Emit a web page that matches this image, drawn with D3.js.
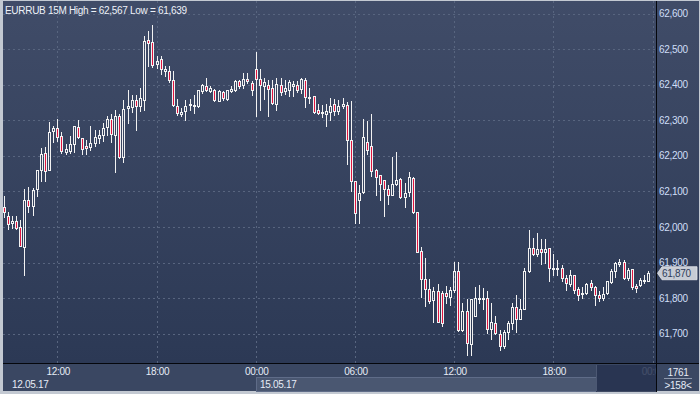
<!DOCTYPE html>
<html><head><meta charset="utf-8">
<script src="https://cdn.jsdelivr.net/npm/d3@7"></script>
<style>body{margin:0;background:#c3c9d2;}svg{display:block;font-family:"Liberation Sans",Arial,sans-serif;}</style>
</head><body>
<svg id="c" width="700" height="394"></svg>
<script>
const opens=[62055,62030,62012,62018,61999,61944,62077,62058,62107,62159,62208,62160,62269,62279,62256,62212,62213,62232,62282,62251,62227,62225,62237,62251,62260,62280,62304,62260,62311,62196,62335,62338,62358,62339,62358,62525,62520,62459,62471,62438,62438,62413,62341,62318,62325,62344,62344,62339,62382,62396,62382,62386,62355,62379,62360,62382,62386,62410,62398,62417,62405,62445,62416,62396,62400,62391,62347,62400,62382,62386,62396,62400,62388,62413,62366,62368,62330,62322,62319,62323,62347,62325,62339,62344,62244,62129,62077,62098,62239,62227,62159,62145,62131,62107,62091,62122,62136,62085,62098,62138,62043,61932,61854,61826,61794,61821,61815,61815,61804,61822,61877,61710,61765,61671,61749,61801,61801,61801,61712,61731,61700,61665,61705,61729,61775,61742,61770,61877,61941,61923,61937,61929,61941,61885,61885,61885,61857,61840,61866,61826,61815,61815,61843,61832,61808,61799,61815,61845,61876,61896,61901,61857,61882,61835,61838,61852,61847];
const highs=[62086,62041,62032,62032,62019,62107,62113,62109,62159,62222,62225,62296,62285,62304,62268,62232,62255,62285,62302,62251,62246,62285,62272,62272,62293,62311,62319,62328,62319,62358,62384,62370,62370,62392,62536,62550,62567,62480,62480,62452,62452,62438,62360,62335,62356,62360,62372,62386,62402,62419,62396,62388,62384,62382,62384,62396,62414,62414,62433,62433,62410,62491,62443,62419,62414,62414,62419,62419,62412,62414,62410,62410,62419,62419,62391,62368,62347,62344,62347,62363,62360,62357,62363,62351,62353,62129,62117,62304,62297,62319,62164,62147,62131,62117,62197,62211,62138,62124,62155,62141,62043,61944,61913,61854,61832,61841,61819,61835,61832,61901,61901,61785,61798,61798,61832,61838,61829,61819,61785,61751,61710,61709,61735,61785,61810,61798,61885,61991,61969,61982,61967,61967,61941,61923,61906,61894,61866,61880,61866,61832,61832,61843,61850,61835,61819,61832,61847,61882,61901,61910,61908,61885,61882,61841,61857,61866,61877];
const lows=[62029,61995,61998,61995,61946,61864,62041,62035,62088,62129,62129,62160,62238,62241,62209,62206,62208,62210,62251,62204,62204,62216,62227,62237,62243,62260,62240,62154,62194,62182,62293,62323,62274,62325,62328,62452,62450,62447,62429,62424,62407,62341,62316,62313,62302,62328,62321,62338,62377,62382,62379,62353,62353,62358,62358,62379,62382,62391,62391,62405,62372,62311,62328,62360,62313,62347,62328,62372,62375,62368,62368,62379,62377,62338,62349,62321,62318,62310,62283,62302,62316,62319,62335,62178,62100,62012,62012,62096,62206,62143,62091,62075,62032,62066,62091,62119,62082,62055,62086,62040,61930,61804,61779,61785,61732,61732,61723,61785,61782,61816,61707,61707,61639,61641,61749,61787,61770,61702,61686,61698,61655,61660,61686,61712,61704,61742,61770,61874,61920,61918,61897,61899,61847,61866,61866,61847,61822,61835,61815,61794,61799,61813,61824,61782,61791,61796,61813,61843,61860,61890,61854,61850,61826,61816,61833,61843,61847];
const closes=[62041,62009,62018,61998,61946,62077,62058,62105,62159,62205,62157,62268,62279,62253,62213,62218,62232,62285,62253,62220,62222,62237,62253,62260,62279,62304,62262,62311,62196,62333,62339,62358,62341,62363,62522,62518,62455,62468,62443,62443,62412,62344,62321,62324,62339,62345,62344,62386,62398,62386,62391,62356,62382,62363,62384,62389,62410,62396,62417,62410,62386,62416,62398,62407,62388,62349,62402,62379,62391,62407,62402,62386,62416,62366,62365,62323,62321,62323,62325,62339,62325,62341,62346,62244,62129,62040,62096,62253,62216,62157,62141,62122,62107,62089,62122,62133,62085,62096,62141,62042,61930,61854,61826,61791,61821,61732,61729,61805,61824,61877,61710,61765,61674,61798,61801,61801,61801,61714,61733,61702,61665,61705,61729,61775,61742,61770,61877,61941,61924,61939,61929,61939,61885,61885,61885,61857,61843,61864,61824,61810,61815,61841,61832,61808,61799,61812,61847,61877,61899,61901,61857,61880,61832,61829,61850,61852,61870];
const priceTicks=[61700,61800,61900,62000,62100,62200,62300,62400,62500,62600];
const timeTickIndex=[13,37,61,85,109,133,157];
const timeTickLabels=["12:00","18:00","00:00","06:00","12:00","18:00","00:00"];
const dateLabels=["12.05.17","15.05.17"];
const dateStartIndex=[0,61];
const title="EURRUB 15M High = 62,567 Low = 61,639";
const lastPrice=61870, barsTotal="1761", barsVisible=">158<";

const svg=d3.select("#c");
const W=700,H=394;
const plotL=3,plotR=656,plotT=1,plotB=363;
const x=d3.scaleLinear().domain([0,157]).range([3.6,652.5]);
const y=d3.scaleLinear().domain([61700,62600]).range([333.7,13.6]);

const defs=svg.append("defs");
const g1=defs.append("linearGradient").attr("id","bg").attr("x1",0).attr("y1",0).attr("x2",0).attr("y2",1);
g1.append("stop").attr("offset",0).attr("stop-color","#404c68");
g1.append("stop").attr("offset",1).attr("stop-color","#2c3955");
defs.append("clipPath").attr("id","plotclip").append("rect").attr("x",plotL).attr("y",plotT).attr("width",plotR-plotL).attr("height",plotB-plotT);
defs.append("clipPath").attr("id","axclip").append("rect").attr("x",plotL).attr("y",363).attr("width",plotR-plotL).attr("height",29);

// frame background
svg.append("rect").attr("width",W).attr("height",H).attr("fill","#c3c9d2");
svg.append("rect").attr("x",plotL).attr("y",plotT).attr("width",699-plotL).attr("height",plotB-plotT).attr("fill","url(#bg)");
// bottom band
svg.append("rect").attr("x",plotL).attr("y",364).attr("width",699-plotL).attr("height",27).attr("fill","#3a4762");

// gridlines
const grid=svg.append("g").attr("clip-path","url(#plotclip)").attr("shape-rendering","crispEdges");
grid.selectAll("line.h").data(priceTicks).join("line").attr("class","h")
  .attr("x1",plotL).attr("x2",plotR).attr("y1",d=>Math.round(y(d))+0.5).attr("y2",d=>Math.round(y(d))+0.5)
  .attr("stroke","#58657f").attr("stroke-dasharray","2,3");
grid.selectAll("line.v").data(timeTickIndex).join("line").attr("class","v")
  .attr("y1",plotT).attr("y2",plotB).attr("x1",d=>Math.round(x(d))+0.5).attr("x2",d=>Math.round(x(d))+0.5)
  .attr("stroke","#58657f").attr("stroke-dasharray","2,3");

// candles
const data=opens.map((o,i)=>({i,o,h:highs[i],l:lows[i],c:closes[i]}));
const cg=svg.append("g").attr("clip-path","url(#plotclip)").attr("shape-rendering","crispEdges");
const wickCol="#f2f2f2", red="#e0143f";
data.forEach(d=>{
  const cx=Math.round(x(d.i));
  let top=Math.round(y(Math.max(d.o,d.c))), bot=Math.round(y(Math.min(d.o,d.c)));
  if(bot-top<1) bot=top+1;
  const yh=Math.round(y(d.h)), yl=Math.round(y(d.l));
  if(yh<top) cg.append("line").attr("x1",cx+0.5).attr("x2",cx+0.5).attr("y1",yh).attr("y2",top).attr("stroke",wickCol);
  if(yl>bot) cg.append("line").attr("x1",cx+0.5).attr("x2",cx+0.5).attr("y1",bot+1).attr("y2",yl+1).attr("stroke",wickCol);
  cg.append("rect").attr("x",cx-0.5).attr("y",top+0.5).attr("width",2).attr("height",bot-top)
    .attr("fill",d.c<d.o?red:"none").attr("stroke",wickCol).attr("stroke-width",1);
});

// title
svg.append("text").attr("x",5).attr("y",14).attr("fill","#eef2f8").attr("font-size",10).attr("letter-spacing",-0.3).text(title);

// axis lines
svg.append("line").attr("x1",656.5).attr("x2",656.5).attr("y1",plotT).attr("y2",392).attr("stroke","#05070c").attr("shape-rendering","crispEdges");
svg.append("line").attr("x1",plotL).attr("x2",699).attr("y1",363.5).attr("y2",363.5).attr("stroke","#05070c").attr("shape-rendering","crispEdges");

// price labels
svg.append("g").selectAll("text").data(priceTicks).join("text")
  .attr("x",659).attr("y",d=>y(d)).attr("dy","0.35em").attr("fill","#cfdff7").attr("font-size",10).attr("letter-spacing",-0.3)
  .text(d=>d3.format(",")(d));

// last price tag
const ly=y(lastPrice);
svg.append("path").attr("d",`M657.5,${ly} L662,${ly-6.5} L697,${ly-6.5} L697,${ly+6.5} L662,${ly+6.5} Z`)
  .attr("fill","#c7ccd5").attr("stroke","#e4e7ec").attr("stroke-width",0.8);
svg.append("text").attr("x",662).attr("y",ly).attr("dy","0.35em").attr("fill","#2f3d5a").attr("font-size",10).attr("letter-spacing",-0.3).text(d3.format(",")(lastPrice));

// date band boxes
const axg=svg.append("g").attr("clip-path","url(#axclip)");
axg.append("rect").attr("x",Math.round(x(dateStartIndex[1]))+0.5).attr("y",377.5).attr("width",596-Math.round(x(dateStartIndex[1]))).attr("height",14)
  .attr("fill","#4a5771").attr("stroke","#5f6c88").attr("shape-rendering","crispEdges");
axg.selectAll("text.t").data(timeTickIndex).join("text").attr("class","t")
  .attr("x",d=>x(d)+1).attr("y",371).attr("dy","0.35em").attr("text-anchor","middle").attr("fill","#e6ecf6").attr("font-size",10).attr("letter-spacing",-0.3)
  .text((d,i)=>timeTickLabels[i]);
axg.selectAll("text.d").data(dateLabels).join("text").attr("class","d")
  .attr("x",(d,i)=>i===0?12:Math.round(x(dateStartIndex[i]))+4).attr("y",384).attr("dy","0.35em").attr("fill","#e6ecf6").attr("font-size",10).attr("letter-spacing",-0.3)
  .text(d=>d);
// dark overlay (current window)
axg.append("rect").attr("x",596).attr("y",365).attr("width",60).attr("height",27).attr("fill","#273350").attr("opacity",0.85);
axg.append("line").attr("x1",596.5).attr("x2",596.5).attr("y1",365).attr("y2",391).attr("stroke","#4c5873").attr("shape-rendering","crispEdges");

// bars info
svg.append("text").attr("x",678).attr("y",372).attr("dy","0.35em").attr("text-anchor","middle").attr("fill","#e6ecf6").attr("font-size",10).attr("letter-spacing",-0.3).text(barsTotal);
svg.append("line").attr("x1",664).attr("x2",692).attr("y1",378.5).attr("y2",378.5).attr("stroke","#8d98ad").attr("shape-rendering","crispEdges");
svg.append("text").attr("x",678).attr("y",385).attr("dy","0.35em").attr("text-anchor","middle").attr("fill","#e6ecf6").attr("font-size",10).attr("letter-spacing",-0.3).text(barsVisible);
</script>
</body></html>
